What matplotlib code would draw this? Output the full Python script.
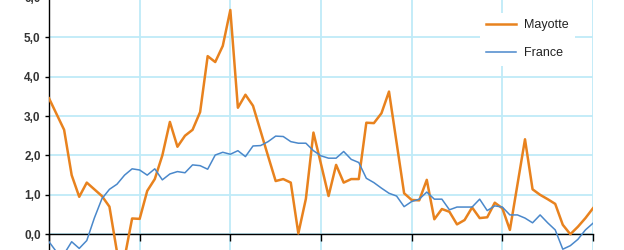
import matplotlib
matplotlib.use('Agg')
import matplotlib.pyplot as plt
import numpy as np

# monthly values, 6 years (73 points)
mayotte = [3.45, 3.05, 2.65, 1.5, 0.95, 1.31, 1.14, 0.97, 0.70, -0.45,
           -0.6, 0.40, 0.39, 1.1, 1.4, 2.0, 2.85, 2.22, 2.5, 2.65,
           3.1, 4.52, 4.37, 4.78, 5.69, 3.21, 3.54, 3.26, 2.62, 1.98,
           1.35, 1.40, 1.31, 0.02, 0.9, 2.58, 1.78, 0.97, 1.76, 1.31,
           1.40, 1.40, 2.83, 2.82, 3.07, 3.62, 2.33, 1.04, 0.87, 0.86,
           1.38, 0.38, 0.64, 0.57, 0.25, 0.36, 0.68, 0.41, 0.43, 0.80,
           0.66, 0.11, 1.26, 2.41, 1.14, 1.0, 0.89, 0.77, 0.24, 0.0,
           0.19, 0.41, 0.66]

france = [-0.19, -0.45, -0.5, -0.19, -0.36, -0.16, 0.41, 0.90, 1.14, 1.27,
          1.50, 1.66, 1.63, 1.50, 1.66, 1.38, 1.53, 1.59, 1.56, 1.76,
          1.74, 1.65, 2.01, 2.08, 2.03, 2.12, 1.97, 2.24, 2.25, 2.35,
          2.49, 2.48, 2.35, 2.31, 2.31, 2.12, 1.99, 1.93, 1.93, 2.10,
          1.90, 1.82, 1.42, 1.31, 1.17, 1.04, 0.97, 0.70, 0.83, 0.89,
          1.07, 0.89, 0.89, 0.62, 0.69, 0.69, 0.69, 0.89, 0.60, 0.72,
          0.69, 0.49, 0.49, 0.41, 0.29, 0.49, 0.29, 0.11, -0.38, -0.29,
          -0.13, 0.11, 0.28]

series_names = ['Mayotte', 'France']
y_ticks = [0, 1, 2, 3, 4, 5, 6]
y_tick_labels = ['0,0', '1,0', '2,0', '3,0', '4,0', '5,0', '6,0']
year_ticks = [0, 12, 24, 36, 48, 60, 72]

orange = '#e8821e'
blue = '#4a88cb'
grid_col = '#bfebf8'

fig = plt.figure(figsize=(6.24, 2.5), dpi=100)
# axes runs a bit above the picture so the 6,0 label is cut like the original
ax = fig.add_axes([49 / 624, 0, 544 / 624, 252.2 / 250])
months = np.arange(len(mayotte))

ax.plot(months, mayotte, color=orange, lw=1.8, label=series_names[0], zorder=3)
ax.plot(months, france, color=blue, lw=1.1, label=series_names[1], zorder=3)

ax.set_xlim(0, 72)
ax.set_ylim(-0.4, 6.0)

### grid
ax.set_yticks(y_ticks)
ax.set_yticklabels(y_tick_labels)
ax.set_xticks(year_ticks)
ax.grid(True, color=grid_col, lw=1.3, zorder=0)
ax.set_axisbelow(True)

### spines and ticks
for s in ['top', 'right']:
    ax.spines[s].set_visible(False)
ax.spines['bottom'].set_position(('data', 0))
ax.spines['bottom'].set_color('black')
ax.spines['bottom'].set_linewidth(1.0)
ax.spines['left'].set_linewidth(1.0)
ax.tick_params(axis='x', direction='out', length=5, width=1, labelbottom=False)
ax.tick_params(axis='y', direction='out', length=3, width=1, pad=3,
               labelsize=8.5, labelcolor='#333333')
for t in ax.get_yticklabels():
    t.set_fontweight('bold')
    t.set_family('Liberation Sans')

leg = ax.legend(loc='upper left', bbox_to_anchor=(480 / 624, 1 - 13 / 250),
                bbox_transform=fig.transFigure, frameon=True, fancybox=False,
                borderpad=0.5, borderaxespad=0, handlelength=2.4,
                handletextpad=0.6, labelspacing=1.3,
                prop={'family': 'Liberation Sans', 'size': 9})
leg.get_frame().set_edgecolor('none')
leg.get_frame().set_facecolor('white')
leg.get_frame().set_alpha(1)
for t in leg.get_texts():
    t.set_color('#222222')

fig.savefig('out.png', dpi=100)
